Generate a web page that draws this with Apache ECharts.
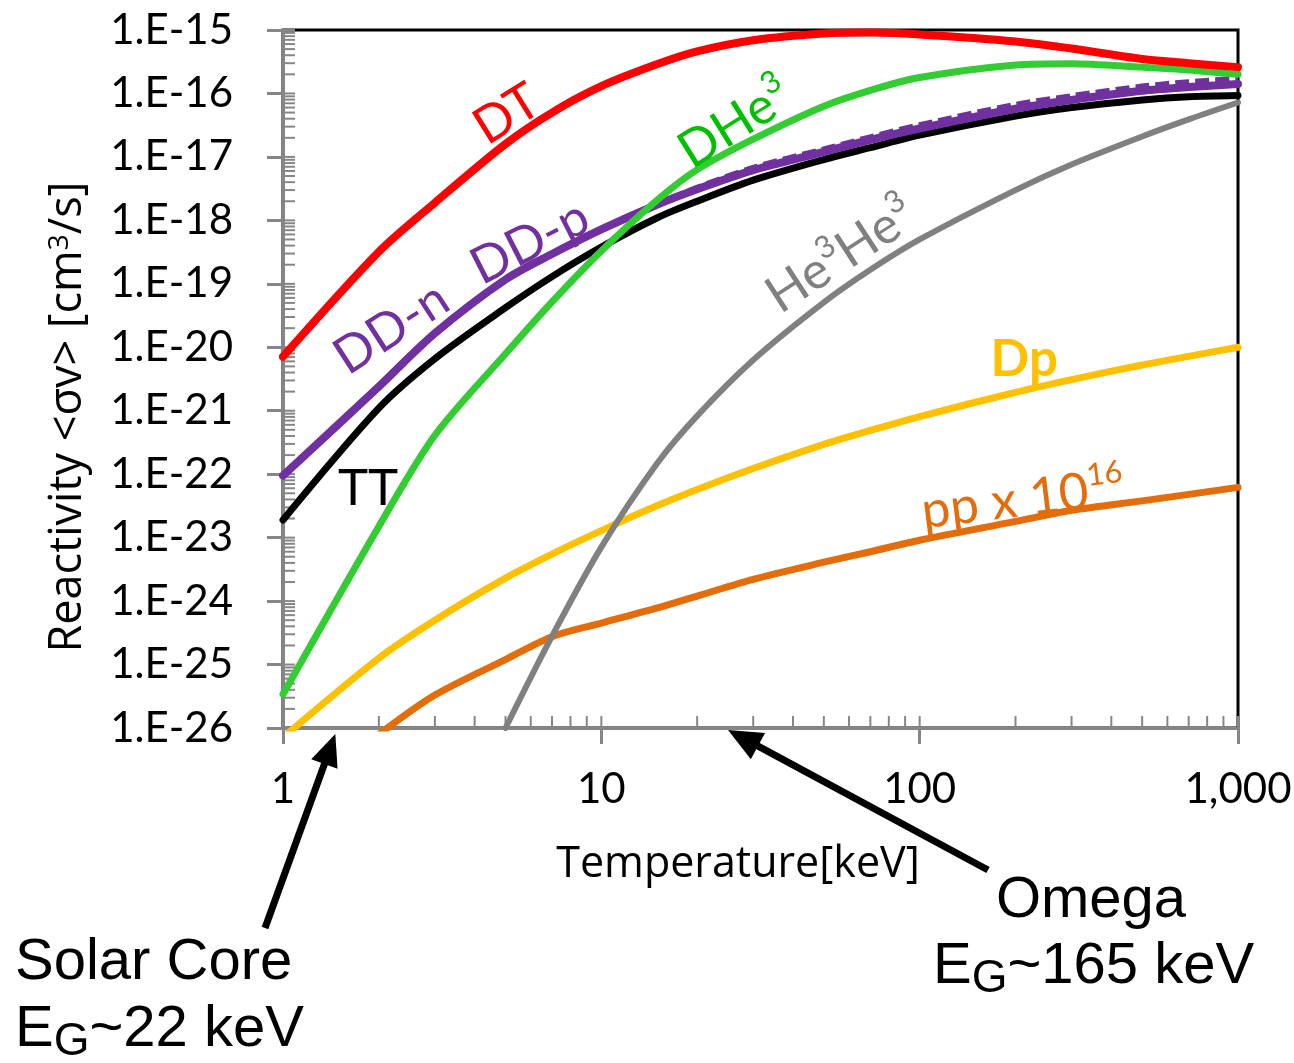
<!DOCTYPE html>
<html>
<head>
<meta charset="utf-8">
<script src="https://cdn.jsdelivr.net/npm/echarts@6/dist/echarts.min.js"></script>
<style>
  html, body { margin: 0; padding: 0; background: #fff; }
  #chart { width: 1294px; height: 1063px; }
</style>
</head>
<body>
<div id="chart"></div>
<script>
// Temperatures (keV) at which the reactivities are tabulated
const temperatures = [1, 2, 3, 5, 7, 10, 15, 20, 30, 50, 70, 100, 200, 300, 500, 700, 1000];

// Maxwellian-averaged reactivity <σv> in cm^3/s (null = not tabulated)
const reactDT     = [7.1e-21, 3.2e-19, 1.9e-18, 1.6e-17, 5.0e-17, 1.3e-16, 2.9e-16, 4.6e-16, 6.9e-16, 8.8e-16, 9.1e-16, 8.5e-16, 6.6e-16, 5.1e-16, 3.5e-16, 3.0e-16, 2.6e-16];
const reactDHe3   = [3.4e-26, 1.5e-23, 4.1e-22, 7.9e-21, 5.2e-20, 3.3e-19, 2.1e-18, 6.3e-18, 1.9e-17, 6.3e-17, 1.12e-16, 1.78e-16, 2.8e-16, 2.95e-16, 2.6e-16, 2.35e-16, 2.0e-16];
const reactDDn    = [9.5e-23, 2.4e-21, 1.66e-20, 1.17e-19, 2.95e-19, 7.2e-19, 1.78e-18, 3.1e-18, 6.2e-18, 1.2e-17, 1.86e-17, 2.8e-17, 5.75e-17, 7.9e-17, 1.1e-16, 1.26e-16, 1.41e-16];
const reactDDp    = [9.5e-23, 2.4e-21, 1.66e-20, 1.17e-19, 2.95e-19, 7.2e-19, 1.78e-18, 3.2e-18, 6.6e-18, 1.29e-17, 2.0e-17, 3.1e-17, 6.5e-17, 8.9e-17, 1.26e-16, 1.48e-16, 1.66e-16];
const reactTT     = [1.9e-23, 1.1e-21, 6.6e-21, 4.2e-20, 1.3e-19, 3.8e-19, 1.1e-18, 2.0e-18, 4.3e-18, 9.1e-18, 1.4e-17, 2.2e-17, 4.4e-17, 6.0e-17, 7.9e-17, 8.9e-17, 9.3e-17];
const reactHe3He3 = [null, null, null, 1.0e-26, 2.8e-25, 7.1e-24, 1.5e-22, 8.3e-22, 6.3e-21, 5.1e-20, 1.66e-19, 5.0e-19, 3.0e-18, 7.6e-18, 2.1e-17, 3.9e-17, 7.2e-17];
const reactDp     = [7.1e-27, 1.26e-25, 5.0e-25, 2.3e-24, 5.5e-24, 1.29e-23, 3.2e-23, 5.75e-23, 1.23e-22, 2.95e-22, 4.9e-22, 8.1e-22, 1.95e-21, 3.1e-21, 5.25e-21, 7.2e-21, 1.0e-20];
// p-p reactivity, multiplied by 1e16 so it fits on the same scale
const reactPPx1e16 = [null, 7.9e-27, 3.3e-26, 1.2e-25, 2.75e-25, 4.5e-25, 7.8e-25, 1.2e-24, 2.2e-24, 4.1e-24, 6.0e-24, 9.1e-24, 1.8e-23, 2.7e-23, 3.8e-23, 4.8e-23, 6.2e-23];

// Axis ranges and tick labels (the vertical axis runs over decades of <σv>)
const xRange = [1, 1000];
const yDecades = [-26, -15];
const xTickValues = [1, 10, 100, 1000];
const xTickLabels = ['1', '10', '100', '1,000'];
const yTickExponents = [-26, -25, -24, -23, -22, -21, -20, -19, -18, -17, -16, -15];
const yTickLabels = yTickExponents.map(e => '1.E' + e);

const FONT = 'Lato, "Open Sans", sans-serif';
const NAME_FONT = '"Open Sans", "Noto Sans", sans-serif';
const AXIS_GREY = '#868686';

const chart = echarts.init(document.getElementById('chart'), null, { renderer: 'canvas' });

// [temperature, decade of <σv>] pairs for the vertical log scale
function pairs(vals) {
  return temperatures.map((t, i) => [t, vals[i] == null ? null : Math.log10(vals[i])]);
}

// Log-spaced inner ticks on both axes
const xInnerTicks = [];
for (let n = 0; n < 3; n++) for (let k = 1; k <= 9; k++) xInnerTicks.push([k * Math.pow(10, n), yDecades[0]]);
xInnerTicks.push([xRange[1], yDecades[0]]);
const yInnerTicks = [];
for (let n = yDecades[0]; n < yDecades[1]; n++) for (let k = 1; k <= 9; k++) yInnerTicks.push([xRange[0], n + Math.log10(k)]);
yInnerTicks.push([xRange[0], yDecades[1]]);

function curve(name, vals, color, width, extra) {
  return Object.assign({
    type: 'line', name: name, data: pairs(vals), smooth: 0.3,
    showSymbol: false, symbol: 'none', connectNulls: false, clip: true,
    lineStyle: { color: color, width: width, cap: 'round', join: 'round' }
  }, extra || {});
}

const option = {
  animation: false,
  backgroundColor: '#fff',
  grid: {
    left: 283, top: 30, width: 955, height: 698, containLabel: false, outerBoundsMode: 'none',
    show: true, borderColor: '#000', borderWidth: 3, backgroundColor: '#fff'
  },
  xAxis: {
    type: 'log', logBase: 10, min: xRange[0], max: xRange[1],
    name: 'Temperature[keV]', nameLocation: 'middle', nameGap: 115,
    nameTextStyle: { fontFamily: NAME_FONT, fontSize: 43, color: '#000', padding: [0, 45, 0, 0] },
    axisLine: { show: true, lineStyle: { color: AXIS_GREY, width: 3 } },
    axisTick: { show: true, inside: false, length: 16, lineStyle: { color: AXIS_GREY, width: 3 } },
    minorTick: { show: false },
    splitLine: { show: false },
    axisLabel: {
      margin: 40, fontFamily: FONT, fontSize: 42, color: '#000',
      formatter: v => { const i = xTickValues.indexOf(Math.round(v)); return i >= 0 ? xTickLabels[i] : ''; }
    }
  },
  yAxis: {
    type: 'value', min: yDecades[0], max: yDecades[1], interval: 1,
    name: 'Reactivity <σv> [cm{sup|3}/s]', nameLocation: 'middle', nameRotate: 90, nameGap: 192,
    nameTextStyle: {
      fontFamily: NAME_FONT, fontSize: 45, color: '#000', padding: [0, 76, 0, 0],
      rich: { sup: { fontFamily: NAME_FONT, fontSize: 28, lineHeight: 36, verticalAlign: 'top', color: '#000' } }
    },
    axisLine: { show: true, lineStyle: { color: AXIS_GREY, width: 3 } },
    axisTick: { show: true, inside: false, length: 16, lineStyle: { color: AXIS_GREY, width: 3 } },
    minorTick: { show: false },
    splitLine: { show: false },
    axisLabel: {
      margin: 50, fontFamily: FONT, fontSize: 42, color: '#000',
      formatter: v => { const i = yTickExponents.indexOf(Math.round(v)); return i >= 0 ? yTickLabels[i] : ''; }
    }
  },
  series: [
    {
      type: 'custom', name: 'xMinor', silent: true, data: xInnerTicks, encode: { x: 0, y: 1 },
      renderItem: (params, api) => {
        const p = api.coord([api.value(0), api.value(1)]);
        return { type: 'line', shape: { x1: p[0], y1: p[1], x2: p[0], y2: p[1] - 12 },
                 style: { stroke: AXIS_GREY, lineWidth: 2 } };
      }
    },
    {
      type: 'custom', name: 'yMinor', silent: true, data: yInnerTicks, encode: { x: 0, y: 1 },
      renderItem: (params, api) => {
        const p = api.coord([api.value(0), api.value(1)]);
        return { type: 'line', shape: { x1: p[0], y1: p[1], x2: p[0] + 12, y2: p[1] },
                 style: { stroke: AXIS_GREY, lineWidth: 2 } };
      }
    },
    curve('pp x 1e16', reactPPx1e16, '#E46C0A', 7),
    curve('Dp', reactDp, '#FFC000', 7),
    curve('He3He3', reactHe3He3, '#808080', 6),
    curve('TT', reactTT, '#000000', 7),
    curve('DD-n', reactDDn, '#7030A0', 8),
    curve('DD-p', reactDDp, '#7030A0', 7, { lineStyle: { color: '#7030A0', width: 7, type: [14, 6] } }),
    curve('DHe3', reactDHe3, '#33CC33', 7),
    curve('DT', reactDT, '#FF0000', 8)
  ]
};

chart.setOption(option);

// ---- curve labels and annotations, positioned through the axes ----
const toPx = (t, r) => chart.convertToPixel({ xAxisIndex: 0, yAxisIndex: 0 }, [t, Math.log10(r)]);
const deg = a => a * Math.PI / 180;

const supStyle = (color, size, lh) => ({ fontFamily: FONT, fontSize: size, lineHeight: lh, verticalAlign: 'top', fill: color });

const curveLabels = [
  { text: 'DT', at: [5.06, 4.7e-17], rot: 32, color: '#FF0000' },
  { text: 'DHe{s|3}', at: [26.3, 3.36e-17], rot: 32, color: '#00C000' },
  { text: 'DD-p', at: [5.97, 4.5e-19], rot: 27, color: '#7030A0' },
  { text: 'DD-n', at: [2.19, 2.0e-20], rot: 33, color: '#7030A0' },
  { text: 'TT', at: [1.85, 5.9e-23], rot: 0, color: '#000000' },
  { text: 'He{s|3}He{s|3}', at: [56.6, 2.79e-19], rot: 33, color: '#808080' },
  { text: 'Dp', at: [213, 6.4e-21], rot: 0, color: '#FFC000', bold: true },
  { text: 'pp x 10{s|16}', at: [211, 4.0e-23], rot: 7, color: '#E46C0A' }
];

const graphics = curveLabels.map(l => {
  const p = toPx(l.at[0], l.at[1]);
  return {
    type: 'text', x: p[0], y: p[1], rotation: deg(l.rot), z: 100,
    style: {
      text: l.text, fill: l.color, fontFamily: FONT, fontSize: 51, lineHeight: 62,
      fontWeight: l.bold ? 'bold' : 'normal', align: 'center', verticalAlign: 'middle',
      rich: { s: supStyle(l.color, 31, 40) }
    }
  };
});

function arrow(tail, tip, headLen, headHalf, width) {
  const dx = tip[0] - tail[0], dy = tip[1] - tail[1];
  const len = Math.hypot(dx, dy);
  const ux = dx / len, uy = dy / len;
  const bx = tip[0] - ux * headLen, by = tip[1] - uy * headLen;
  return [
    { type: 'line', z: 100, shape: { x1: tail[0], y1: tail[1], x2: bx + ux * 3, y2: by + uy * 3 },
      style: { stroke: '#000', lineWidth: width } },
    { type: 'polygon', z: 100,
      shape: { points: [[tip[0], tip[1]], [bx - uy * headHalf, by + ux * headHalf], [bx + uy * headHalf, by - ux * headHalf]] },
      style: { fill: '#000' } }
  ];
}

const solarTip = toPx(1.46, 1e-26);
const omegaTip = toPx(25, 1e-26);
graphics.push(...arrow([265, 928], [solarTip[0], solarTip[1] + 6], 32, 14, 7));
graphics.push(...arrow([988, 870], [omegaTip[0], omegaTip[1] + 2], 34, 15, 7));

const ANNO_FONT = '"Liberation Sans", Arial, sans-serif';
const annoText = (x, y, text, align) => ({
  type: 'text', x: x, y: y, z: 100,
  style: {
    text: text, fill: '#000', fontFamily: ANNO_FONT, fontSize: 58, lineHeight: 70,
    align: align, verticalAlign: 'top',
    rich: { g: { fontFamily: ANNO_FONT, fontSize: 46, lineHeight: 20, verticalAlign: 'bottom', fill: '#000' } }
  }
});
graphics.push(annoText(15, 928, 'Solar Core', 'left'));
graphics.push(annoText(15, 995, 'E{g|G}~22 keV', 'left'));
graphics.push(annoText(1091, 866, 'Omega', 'center'));
graphics.push(annoText(933, 932, 'E{g|G}~165 keV', 'left'));

chart.setOption({ graphic: graphics });
</script>
</body>
</html>
